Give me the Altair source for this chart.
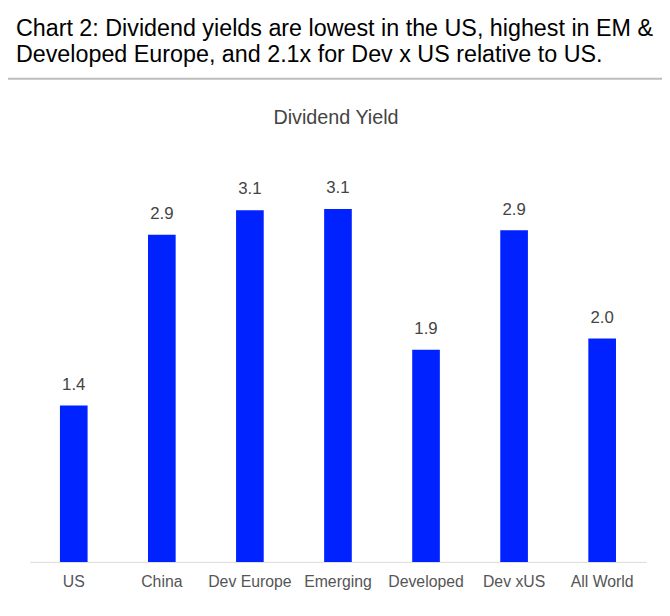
import altair as alt
import pandas as pd

categories = ["US", "China", "Dev Europe", "Emerging", "Developed", "Dev xUS", "All World"]
yields = [1.4, 2.93, 3.15, 3.16, 1.9, 2.97, 2.0]
value_labels = ["1.4", "2.9", "3.1", "3.1", "1.9", "2.9", "2.0"]
title_line1 = "Chart 2: Dividend yields are lowest in the US, highest in EM &"
title_line2 = "Developed Europe, and 2.1x for Dev x US relative to US."
chart_title = "Dividend Yield"

df = pd.DataFrame({"cat": categories, "val": yields, "lab": value_labels})

FONT = "Liberation Sans"
W, H = 624, 452

x_enc = alt.X(
    "cat:N",
    sort=categories,
    scale=alt.Scale(paddingInner=0.686, paddingOuter=0.343),
    axis=alt.Axis(
        title=None,
        labelAngle=0,
        ticks=False,
        tickSize=0,
        labelPadding=25,
        labelBaseline="alphabetic",
        labelFont=FONT,
        labelFontSize=16,
        labelColor="#555555",
        domainColor="#d9d9d9",
        domainWidth=1,
        grid=False,
    ),
)
y_enc = alt.Y("val:Q", scale=alt.Scale(domain=[0, 4], nice=False), axis=None)

base = alt.Chart(df)
bars = base.mark_bar(color="#0022ff").encode(x=x_enc, y=y_enc)
vals = base.mark_text(
    font=FONT, fontSize=17, color="#444444", baseline="alphabetic", dy=-16
).encode(x=alt.X("cat:N", sort=categories), y=y_enc, text="lab:N")

one = alt.Data(values=[{"k": 1}])

t1 = alt.Chart(one).mark_text(
    font=FONT, fontSize=23.6, color="#000000", align="left", baseline="alphabetic"
).encode(x=alt.value(-14), y=alt.value(-80), text=alt.value(title_line1))
t2 = alt.Chart(one).mark_text(
    font=FONT, fontSize=23.6, color="#000000", align="left", baseline="alphabetic"
).encode(x=alt.value(-14), y=alt.value(-54), text=alt.value(title_line2))
sub = alt.Chart(one).mark_text(
    font=FONT, fontSize=20, color="#444444", align="center", baseline="alphabetic"
).encode(x=alt.value(310), y=alt.value(9), text=alt.value(chart_title))
rule = alt.Chart(one).mark_rule(color="#bdbdbd", strokeWidth=2).encode(
    x=alt.value(-23), x2=alt.value(640), y=alt.value(-37)
)

chart = (
    alt.layer(bars, vals, t1, t2, sub, rule)
    .properties(
        width=W,
        height=H,
        background="white",
        autosize=alt.AutoSizeParams(type="none"),
        padding={"left": 22, "top": 105, "right": 16, "bottom": 40},
    )
    .configure_view(strokeWidth=0, stroke=None)
)

chart.save("out.html", embed_options={"renderer": "svg", "actions": False})
